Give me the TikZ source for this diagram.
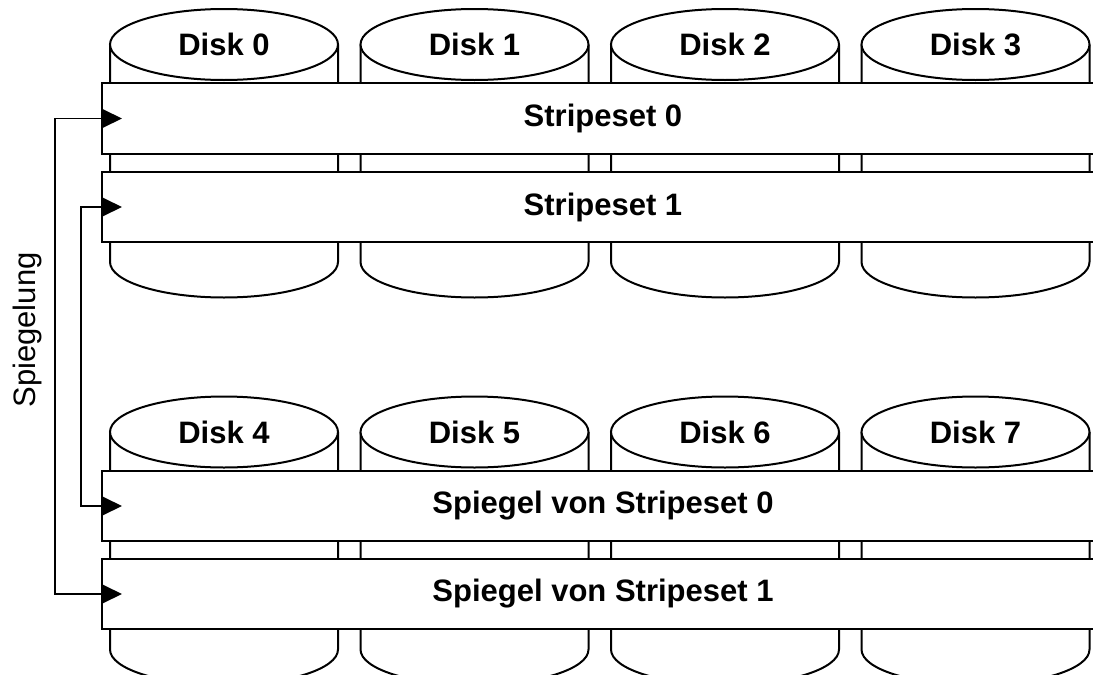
\documentclass[tikz,border=0pt]{standalone}
\usepackage{fontspec}
\setmainfont{Liberation Sans}
\usepackage{tikz}
\usetikzlibrary{arrows.meta}

\tikzset{
	disk/.style={draw, fill=white, line width=2pt},
	stripe/.style={draw, fill=white, line width=2pt, minimum width=1002pt,
		minimum height=70pt, inner sep=0pt, font=\fontsize{31}{37}\selectfont\bfseries},
	disklabel/.style={inner sep=0pt, font=\fontsize{31}{37}\selectfont\bfseries},
	mirror/.style={line width=1.8pt, {Triangle[length=21pt,width=20pt]}-{Triangle[length=21pt,width=20pt]},
		shorten <=-21pt, shorten >=-21pt}
}

\begin{document}
\begin{tikzpicture}[x=1pt,y=-1pt]
					% Define the page
					\clip (0,0) rectangle (1093,675);
					\fill[white] (0,0) rectangle (1093,675);
					% Create Disks
					\foreach \r/\y in {0/44.5,1/432} \foreach \i in {0,1,2,3}{
						\pgfmathsetmacro{\x}{224+250.5*\i}
						\pgfmathtruncatemacro{\n}{\i+4*\r}
						\path[disk] (\x-114,\y) -- (\x-114,\y+217.5)
							arc[start angle=180,end angle=360,x radius=114pt,y radius=35.5pt] -- (\x+114,\y);
						\draw[disk] (\x,\y) ellipse [x radius=114pt,y radius=35.5pt];
						\node[disklabel] (d\n) at (\x,\y) {Disk \n};}
					% Create Stripesets
					\node[stripe, minimum height=71pt] (s0) at (603,118.5) {Stripeset 0};
					\node[stripe] (s1) at (603,207) {Stripeset 1};
					\node[stripe] (m0) at (603,506) {Spiegel von Stripeset 0};
					\node[stripe] (m1) at (603,594) {Spiegel von Stripeset 1};
					% Mirroring
					\draw[mirror] (m1.west) -- ++(-46,0) |- (s0.west);
					\draw[mirror] (m0.west) -- ++(-20,0) |- (s1.west);
					\node[rotate=90, font=\fontsize{31}{37}\selectfont] (sp) at (27,330) {Spiegelung};
				\end{tikzpicture}
\end{document}
